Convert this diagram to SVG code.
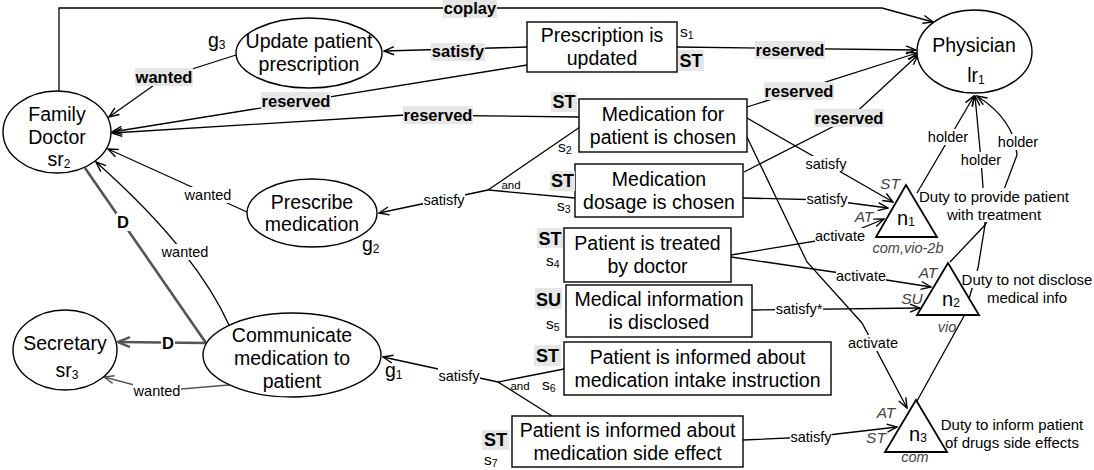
<svg xmlns="http://www.w3.org/2000/svg" width="1094" height="470" viewBox="0 0 1094 470">
<defs>
<style>
text{font-family:"Liberation Sans",Arial,Helvetica,sans-serif}
.n{font-size:19.5px;text-anchor:middle;fill:#000}
.g{font-size:19.5px;fill:#000}
.sub{font-size:12px}
.ss{font-size:10.5px}
.lb{font-size:14.5px;text-anchor:middle;fill:#000}
.bl{font-size:16.5px;font-weight:bold;text-anchor:middle;fill:#000}
.st{font-size:18px;font-weight:bold;text-anchor:middle;fill:#000}
.it{font-size:15.5px;font-style:italic;fill:#444;text-anchor:middle}
.du{font-size:15px;text-anchor:middle;fill:#000}
.sl{font-size:15.5px;fill:#000}
.nn{font-size:20px;fill:#000}
.gb{fill:#e6e6e6}
.wb{fill:#fff}
.shape{fill:#fff;stroke:#000;stroke-width:1.4}
.tri{fill:#fff;stroke:#000;stroke-width:1.8}
.e{fill:none;stroke:#000;stroke-width:1.3}
.eg{fill:none;stroke:#555;stroke-width:1.3}
.ed{fill:none;stroke:#555;stroke-width:2.6}
</style>
<marker id="arr" viewBox="0 0 12 10" refX="11" refY="5" markerWidth="12" markerHeight="10" markerUnits="userSpaceOnUse" orient="auto"><path d="M1,1 L11,5 L1,9" fill="none" stroke="#000" stroke-width="1.4"/></marker>
<marker id="arrG" viewBox="0 0 12 10" refX="11" refY="5" markerWidth="12" markerHeight="10" markerUnits="userSpaceOnUse" orient="auto"><path d="M1,1 L11,5 L1,9" fill="none" stroke="#555" stroke-width="1.4"/></marker>
<marker id="arrD" viewBox="0 0 14 12" refX="13" refY="6" markerWidth="14" markerHeight="12" markerUnits="userSpaceOnUse" orient="auto"><path d="M1,1 L13,6 L1,11" fill="none" stroke="#555" stroke-width="2.4"/></marker>
</defs>
<rect width="1094" height="470" fill="#fff"/>

<g id="connectors">
  <g id="connector-lines">
    <path class="e" d="M59,91 V8 H882 L933,22" marker-end="url(#arr)"/>
    <path class="e" d="M527,47 L384,51" marker-end="url(#arr)"/>
    <path class="e" d="M677,47 L916,50" marker-end="url(#arr)"/>
    <path class="e" d="M527,65 L112,132" marker-end="url(#arr)"/>
    <path class="e" d="M579,117 L405,115 L112,133" marker-end="url(#arr)"/>
    <path class="e" d="M236,55 L164,78 L109,117" marker-end="url(#arr)"/>
    <path class="e" d="M247,212 L108,149" marker-end="url(#arr)"/>
    <path class="e" d="M229,325 Q195,250 96,162" marker-end="url(#arr)"/>
    <path class="ed" d="M206,343 L85,168"/>
    <path class="ed" d="M206,343 L118,342" marker-end="url(#arrD)"/>
    <path class="eg" d="M229,385 L157,391 L104,377" marker-end="url(#arrG)"/>
    <path class="e" d="M580,127 L488,190 L575,198"/>
    <path class="e" d="M488,190 L379,213" marker-end="url(#arr)"/>
    <path class="e" d="M564,369 L498,382 L552,416"/>
    <path class="e" d="M498,382 L383,357" marker-end="url(#arr)"/>
    <path class="e" d="M747,118 L893,202" marker-end="url(#arr)"/>
    <path class="e" d="M743,198 L827,200 L888,208" marker-end="url(#arr)"/>
    <path class="e" d="M731,255 L840,237 L884,219" marker-end="url(#arr)"/>
    <path class="e" d="M731,257 L861,276 L931,287" marker-end="url(#arr)"/>
    <path class="e" d="M752,310 L920,308" marker-end="url(#arr)"/>
    <path class="e" d="M747,137 L807,262 L862,323 L907,408" marker-end="url(#arr)"/>
    <path class="e" d="M743,440 L811,437 L897,427" marker-end="url(#arr)"/>
    <path class="e" d="M747,107 L917,53" marker-end="url(#arr)"/>
    <path class="e" d="M744,172 L850,118 L918,55" marker-end="url(#arr)"/>
    <path class="e" d="M917,193 L974,96" marker-end="url(#arr)"/>
    <path class="e" d="M917,401 L964,316 L978,268 L985,225 L983,187 L981,160 L975,96" marker-end="url(#arr)"/>
    <path class="e" d="M950,262 L985,225 L1005,187 L1017,155 C1015,127 996,108 977,96" marker-end="url(#arr)"/>
  </g>
  <g id="connector-labels">
    <rect class="gb" x="443" y="0" width="54" height="18"/><text class="bl" x="470" y="14">coplay</text>
    <rect class="gb" x="431" y="43" width="54" height="18"/><text class="bl" x="458" y="57">satisfy</text>
    <rect class="gb" x="755" y="41" width="70" height="18"/><text class="bl" x="790" y="56">reserved</text>
    <rect class="gb" x="261" y="92" width="70" height="18"/><text class="bl" x="296" y="107">reserved</text>
    <rect class="gb" x="403" y="106" width="70" height="18"/><text class="bl" x="438" y="121">reserved</text>
    <rect class="gb" x="135" y="68" width="58" height="18"/><text class="bl" x="164" y="83">wanted</text>
    <rect class="gb" x="764" y="82" width="70" height="18"/><text class="bl" x="799" y="97">reserved</text>
    <rect class="gb" x="814" y="109" width="70" height="18"/><text class="bl" x="849" y="124">reserved</text>
    <rect class="wb" x="184" y="187" width="48" height="16"/><text class="lb" x="208" y="200">wanted</text>
    <rect class="wb" x="161" y="244" width="48" height="16"/><text class="lb" x="185" y="257">wanted</text>
    <rect class="wb" x="133" y="383" width="48" height="16"/><text class="lb" x="157" y="396" fill="#333">wanted</text>
    <rect class="wb" x="423" y="192" width="42" height="16"/><text class="lb" x="444" y="205">satisfy</text>
    <text class="lb" x="511" y="189" style="font-size:11.5px">and</text>
    <rect class="wb" x="438" y="368" width="42" height="16"/><text class="lb" x="459" y="381">satisfy</text>
    <text class="lb" x="520" y="390" style="font-size:11.5px">and</text>
    <rect class="wb" x="805" y="156" width="42" height="16"/><text class="lb" x="826" y="169">satisfy</text>
    <rect class="wb" x="806" y="191" width="42" height="16"/><text class="lb" x="827" y="204">satisfy</text>
    <rect class="wb" x="815" y="228" width="50" height="16"/><text class="lb" x="840" y="241">activate</text>
    <rect class="wb" x="836" y="268" width="50" height="16"/><text class="lb" x="861" y="281">activate</text>
    <rect class="wb" x="775" y="301" width="48" height="16"/><text class="lb" x="799" y="314">satisfy*</text>
    <rect class="wb" x="848" y="335" width="50" height="16"/><text class="lb" x="873" y="348">activate</text>
    <rect class="wb" x="790" y="429" width="42" height="16"/><text class="lb" x="811" y="442">satisfy</text>
    <rect class="wb" x="928" y="129" width="41" height="16"/><text class="lb" x="948" y="142">holder</text>
    <rect class="wb" x="961" y="152" width="41" height="16"/><text class="lb" x="981" y="165">holder</text>
    <rect class="wb" x="998" y="134" width="41" height="16"/><text class="lb" x="1018" y="147">holder</text>
    <rect class="wb" x="116" y="213" width="14" height="18"/><text class="bl" x="123" y="228">D</text>
    <rect class="wb" x="161" y="334" width="14" height="18"/><text class="bl" x="168" y="349">D</text>
  </g>
</g>

<g id="family-doctor">
  <ellipse class="shape" cx="57" cy="132" rx="54" ry="41"/>
  <text class="n" x="57" y="121">Family</text>
  <text class="n" x="57" y="144">Doctor</text>
  <text class="n" x="59" y="166">sr<tspan class="sub" dy="2">2</tspan></text>
</g>
<g id="secretary">
  <ellipse class="shape" cx="65" cy="350" rx="52" ry="40"/>
  <text class="n" x="65" y="350">Secretary</text>
  <text class="n" x="67" y="377">sr<tspan class="sub" dy="2">3</tspan></text>
</g>
<g id="physician">
  <ellipse class="shape" cx="974.5" cy="51.5" rx="57.5" ry="41.5"/>
  <text class="n" x="974" y="52">Physician</text>
  <text class="n" x="976" y="82">lr<tspan class="sub" dy="2">1</tspan></text>
</g>
<g id="g3-update">
  <ellipse class="shape" cx="309" cy="53" rx="73" ry="35"/>
  <text class="n" x="309" y="48">Update patient</text>
  <text class="n" x="309" y="71">prescription</text>
  <text class="g" x="208" y="47">g<tspan class="sub" dy="2">3</tspan></text>
</g>
<g id="g2-prescribe">
  <ellipse class="shape" cx="312" cy="213" rx="65" ry="34"/>
  <text class="n" x="312" y="209">Prescribe</text>
  <text class="n" x="312" y="231">medication</text>
  <text class="g" x="362" y="251">g<tspan class="sub" dy="2">2</tspan></text>
</g>
<g id="g1-communicate">
  <ellipse class="shape" cx="292" cy="355" rx="89" ry="42"/>
  <text class="n" x="292" y="342">Communicate</text>
  <text class="n" x="292" y="365">medication to</text>
  <text class="n" x="292" y="388">patient</text>
  <text class="g" x="385" y="377">g<tspan class="sub" dy="2">1</tspan></text>
</g>

<g id="s1">
  <rect class="shape" x="527" y="22" width="150" height="50"/>
  <text class="n" x="602" y="42">Prescription is</text>
  <text class="n" x="602" y="65">updated</text>
  <text class="sl" x="680" y="37">s<tspan class="ss" dy="2">1</tspan></text>
  <rect class="gb" x="678" y="50" width="26" height="21"/><text class="st" x="691" y="67">ST</text>
</g>
<g id="s2">
  <rect class="shape" x="579" y="99" width="168" height="53"/>
  <text class="n" x="663" y="121">Medication for</text>
  <text class="n" x="663" y="144">patient is chosen</text>
  <text class="sl" x="558" y="152">s<tspan class="ss" dy="2">2</tspan></text>
  <rect class="gb" x="551" y="92" width="26" height="20"/><text class="st" x="564" y="108">ST</text>
</g>
<g id="s3">
  <rect class="shape" x="575" y="164" width="168" height="53"/>
  <text class="n" x="659" y="186">Medication</text>
  <text class="n" x="659" y="209">dosage is chosen</text>
  <text class="sl" x="557" y="211">s<tspan class="ss" dy="2">3</tspan></text>
  <rect class="gb" x="550" y="171" width="25" height="20"/><text class="st" x="562.5" y="187">ST</text>
</g>
<g id="s4">
  <rect class="shape" x="564" y="228" width="167" height="54"/>
  <text class="n" x="647.5" y="250">Patient is treated</text>
  <text class="n" x="647.5" y="273">by doctor</text>
  <text class="sl" x="546" y="266">s<tspan class="ss" dy="2">4</tspan></text>
  <rect class="gb" x="537" y="228" width="26" height="20"/><text class="st" x="550" y="245">ST</text>
</g>
<g id="s5">
  <rect class="shape" x="566" y="285" width="186" height="52"/>
  <text class="n" x="659" y="306">Medical information</text>
  <text class="n" x="659" y="329">is disclosed</text>
  <text class="sl" x="546" y="329">s<tspan class="ss" dy="2">5</tspan></text>
  <rect class="gb" x="535" y="288" width="27" height="21"/><text class="st" x="548.5" y="306">SU</text>
</g>
<g id="s6">
  <rect class="shape" x="564" y="342" width="267" height="53"/>
  <text class="n" x="697.5" y="364">Patient is informed about</text>
  <text class="n" x="697.5" y="387">medication intake instruction</text>
  <text class="sl" x="542" y="390">s<tspan class="ss" dy="2">6</tspan></text>
  <rect class="gb" x="534" y="345" width="27" height="21"/><text class="st" x="547.5" y="362">ST</text>
</g>
<g id="s7">
  <rect class="shape" x="512" y="416" width="231" height="51"/>
  <text class="n" x="627.5" y="437">Patient is informed about</text>
  <text class="n" x="627.5" y="460">medication side effect</text>
  <text class="sl" x="484" y="465">s<tspan class="ss" dy="2">7</tspan></text>
  <rect class="gb" x="482" y="430" width="27" height="20"/><text class="st" x="495.5" y="446">ST</text>
</g>

<g id="n1">
  <rect class="wb" x="920" y="188" width="148" height="18"/>
  <rect class="wb" x="947" y="206" width="94" height="16"/>
  <polygon class="tri" points="906,185 876,237 937,237"/>
  <text class="nn" x="897" y="225">n<tspan class="sub" dy="1">1</tspan></text>
  <text class="it" x="890" y="189">ST</text>
  <text class="it" x="864" y="222">AT</text>
  <text class="it" x="908" y="253" style="font-size:14.5px">com,vio-2b</text>
  <text class="du" x="994" y="202">Duty to provide patient</text>
  <text class="du" x="994" y="220">with treatment</text>
</g>
<g id="n2">
  <rect class="wb" x="962" y="271" width="130" height="17"/>
  <rect class="wb" x="986" y="288" width="82" height="17"/>
  <polygon class="tri" points="948,263 917,315 979,315"/>
  <text class="nn" x="942" y="306">n<tspan class="sub" dy="1">2</tspan></text>
  <text class="it" x="928" y="278">AT</text>
  <text class="it" x="912" y="304">SU</text>
  <text class="it" x="947" y="332" style="font-size:14.5px">vio</text>
  <text class="du" x="1027" y="285">Duty to not disclose</text>
  <text class="du" x="1027" y="303">medical info</text>
</g>
<g id="n3">
  <polygon class="tri" points="916,400 885,452 947,452"/>
  <text class="nn" x="909" y="441">n<tspan class="sub" dy="1">3</tspan></text>
  <text class="it" x="886" y="418">AT</text>
  <text class="it" x="876" y="443">ST</text>
  <text class="it" x="915" y="462" style="font-size:14.5px">com</text>
  <text class="du" x="1012" y="430">Duty to inform patient</text>
  <text class="du" x="1012" y="448">of drugs side effects</text>
</g>
</svg>
